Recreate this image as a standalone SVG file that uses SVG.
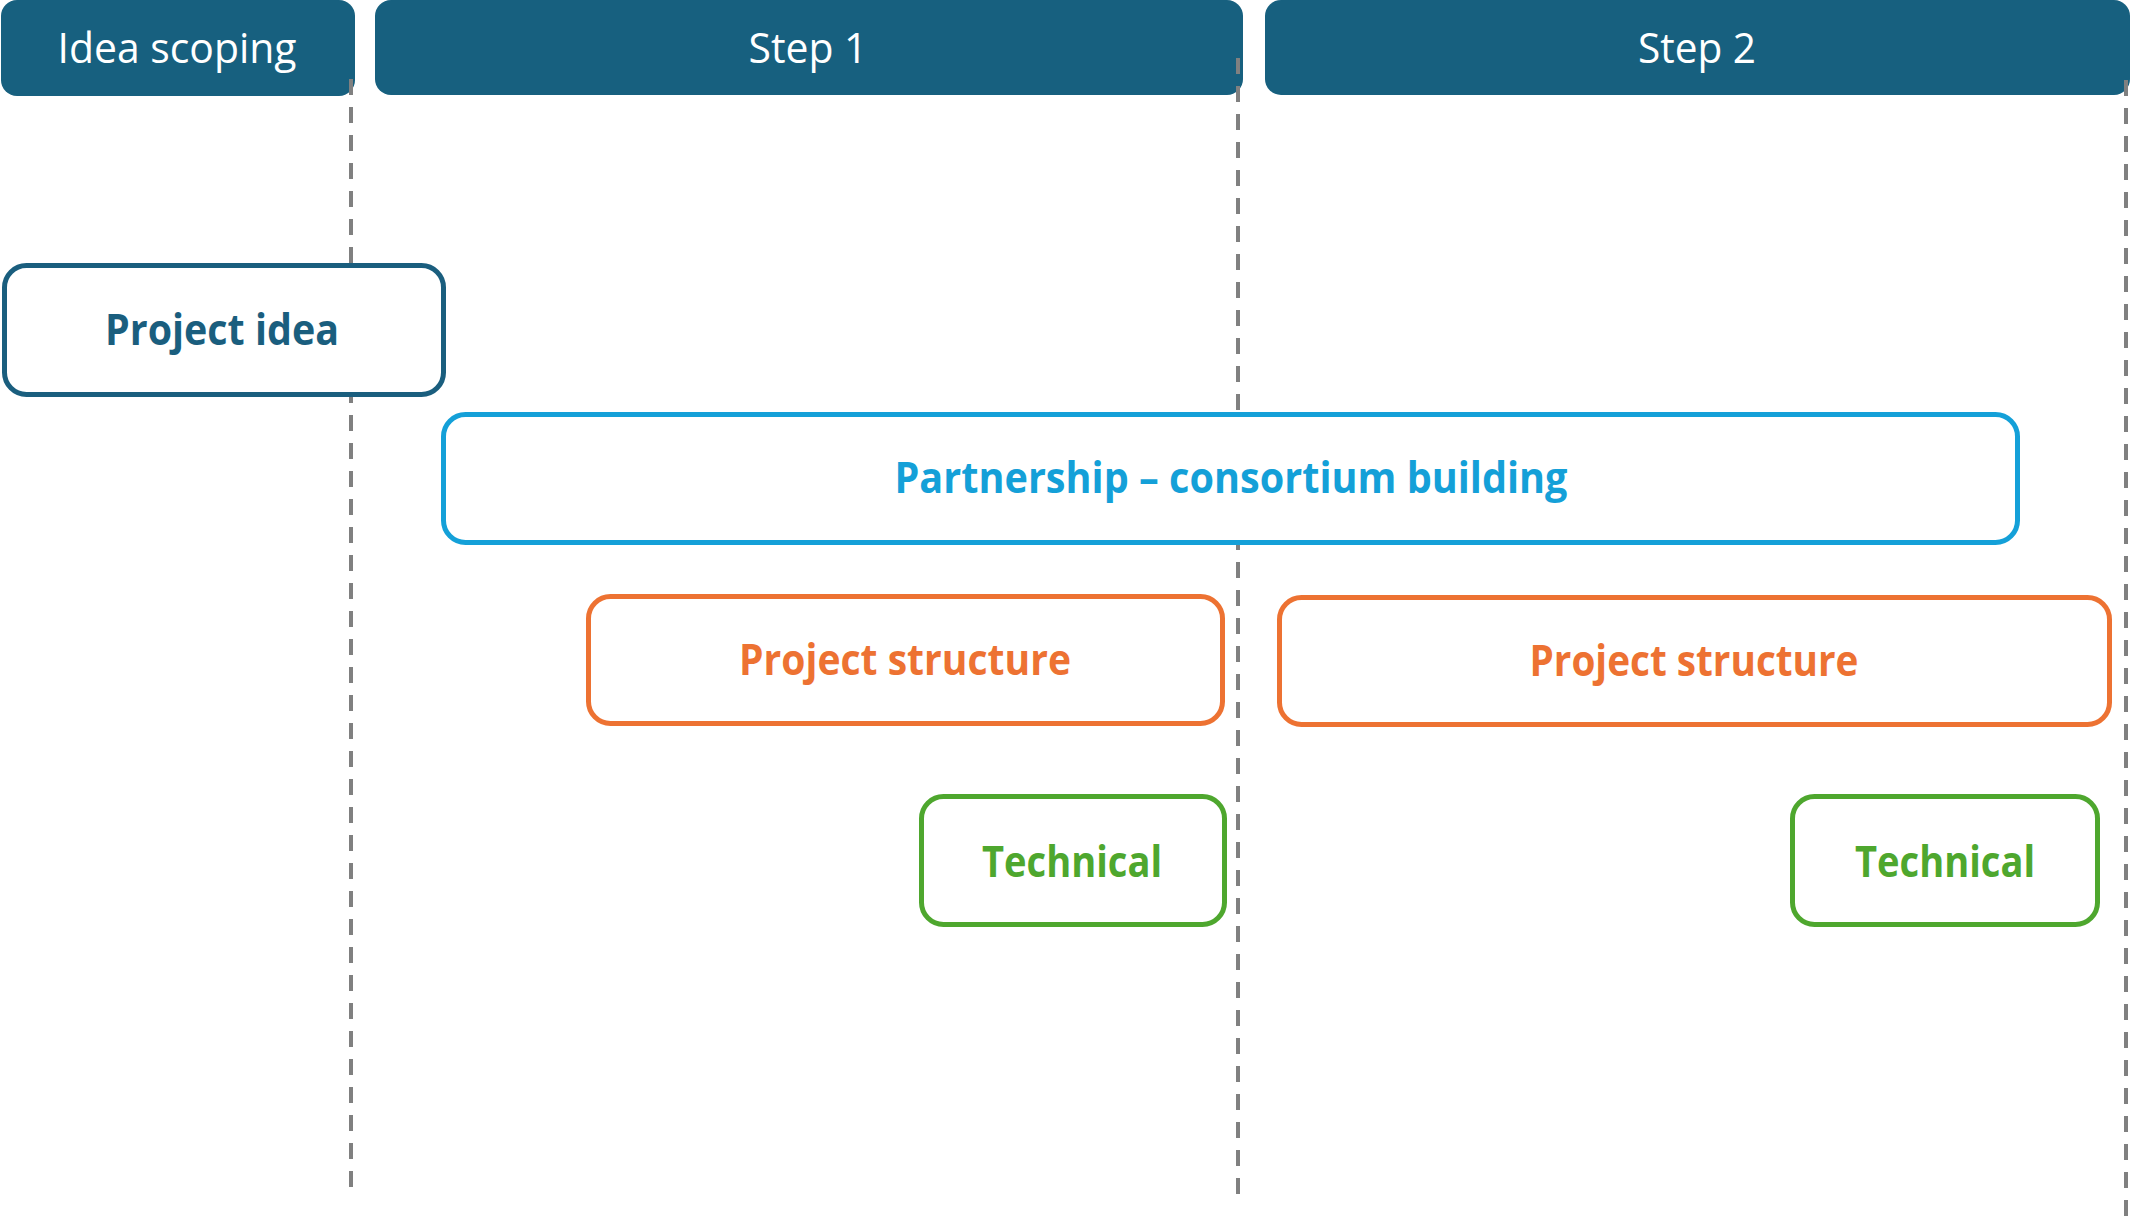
<svg xmlns="http://www.w3.org/2000/svg" width="2133" height="1216" viewBox="0 0 2133 1216">
<style>
.hdr{fill:#17607F}
.htxt{font-family:"Open Sans","Noto Sans",sans-serif;font-size:42px;fill:#FFFFFF;text-anchor:middle}
.box{fill:#FFFFFF;stroke-width:5}
.btxt{font-family:"Open Sans","Noto Sans",sans-serif;font-size:43px;font-weight:bold;text-anchor:middle}
.dash{stroke:#808080;stroke-width:4;stroke-dasharray:16 12;fill:none}
</style>
<rect x="0" y="0" width="2133" height="1216" fill="#FFFFFF"/>
<g id="header-idea-scoping">
<rect class="hdr" x="1" y="0" width="354" height="96" rx="16"/>
<text class="htxt" x="177" y="63" textLength="239" lengthAdjust="spacingAndGlyphs">Idea scoping</text>
</g>
<g id="header-step1">
<rect class="hdr" x="375" y="0" width="868" height="95" rx="16"/>
<text class="htxt" x="808" y="63" textLength="119" lengthAdjust="spacingAndGlyphs">Step 1</text>
</g>
<g id="header-step2">
<rect class="hdr" x="1265" y="0" width="865" height="95" rx="16"/>
<text class="htxt" x="1697" y="63" textLength="118" lengthAdjust="spacingAndGlyphs">Step 2</text>
</g>
<g id="connectors">
<line class="dash" x1="351" y1="79" x2="351" y2="1187"/>
<line class="dash" x1="1238" y1="58" x2="1238" y2="1194"/>
<line class="dash" x1="2126" y1="80" x2="2126" y2="1216"/>
</g>
<g id="project-idea">
<rect class="box" x="4.5" y="265.5" width="439" height="129" rx="22" stroke="#1A5E7E"/>
<text class="btxt" x="222" y="345" fill="#1A5E7E" textLength="234" lengthAdjust="spacingAndGlyphs">Project idea</text>
</g>
<g id="partnership">
<rect class="box" x="443.5" y="414.5" width="1574" height="128" rx="22" stroke="#14A0D8"/>
<text class="btxt" x="1231" y="493" fill="#14A0D8" textLength="673" lengthAdjust="spacingAndGlyphs">Partnership – consortium building</text>
</g>
<g id="project-structure-1">
<rect class="box" x="588.5" y="596.5" width="634" height="127" rx="22" stroke="#ED7232"/>
<text class="btxt" x="905" y="675" fill="#ED7232" textLength="332" lengthAdjust="spacingAndGlyphs">Project structure</text>
</g>
<g id="project-structure-2">
<rect class="box" x="1279.5" y="597.5" width="830" height="127" rx="22" stroke="#ED7232"/>
<text class="btxt" x="1694" y="676" fill="#ED7232" textLength="329" lengthAdjust="spacingAndGlyphs">Project structure</text>
</g>
<g id="technical-1">
<rect class="box" x="921.5" y="796.5" width="303" height="128" rx="22" stroke="#4EA72E"/>
<text class="btxt" x="1072" y="877" fill="#4EA72E" textLength="180" lengthAdjust="spacingAndGlyphs">Technical</text>
</g>
<g id="technical-2">
<rect class="box" x="1792.5" y="796.5" width="305" height="128" rx="22" stroke="#4EA72E"/>
<text class="btxt" x="1945" y="877" fill="#4EA72E" textLength="180" lengthAdjust="spacingAndGlyphs">Technical</text>
</g>
</svg>
